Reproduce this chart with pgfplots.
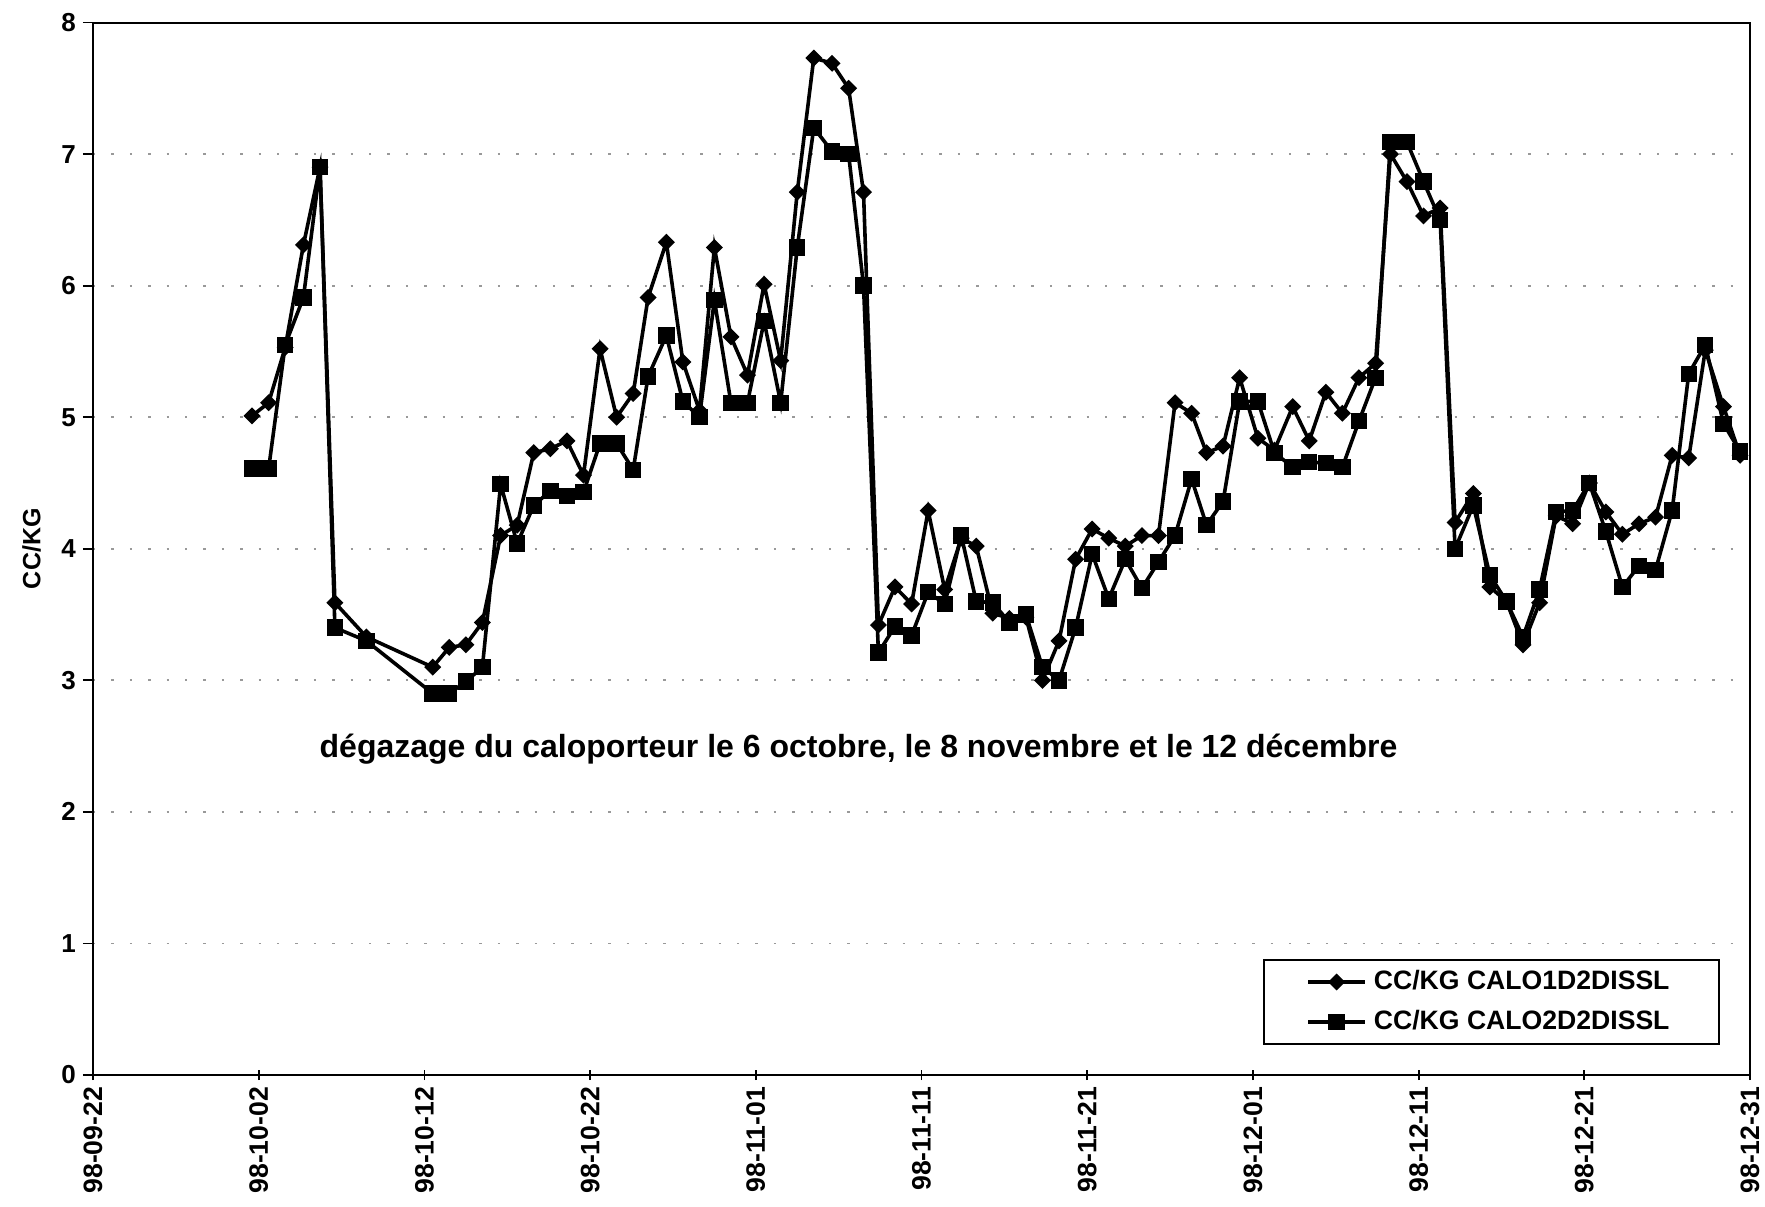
\documentclass[border=0pt]{standalone}
\usepackage{pgfplots}
\pgfplotsset{compat=1.18}
\usepackage{pgfplotstable}
\usepackage{fontspec}
\setmainfont{Liberation Sans}

\pgfplotstableread{
d a b
9.6 5.01 4.61
10.6 5.11 4.61
11.6 5.53 5.55
12.7 6.31 5.91
13.7 6.90 6.90
14.6 3.59 3.40
16.5 3.33 3.30
20.5 3.10 2.90
21.5 3.25 2.90
22.5 3.27 2.99
23.5 3.44 3.10
24.6 4.10 4.49
25.6 4.18 4.04
26.6 4.73 4.33
27.6 4.76 4.44
28.6 4.82 4.40
29.6 4.56 4.43
30.6 5.52 4.80
31.6 5.00 4.80
32.6 5.18 4.60
33.5 5.91 5.31
34.6 6.33 5.62
35.6 5.42 5.12
36.6 5.05 5.00
37.5 6.29 5.89
38.5 5.61 5.11
39.5 5.32 5.11
40.5 6.01 5.73
41.5 5.43 5.11
42.5 6.71 6.29
43.5 7.73 7.20
44.6 7.69 7.02
45.6 7.50 7.00
46.5 6.71 6.00
47.4 3.42 3.21
48.4 3.71 3.41
49.4 3.58 3.34
50.4 4.29 3.67
51.4 3.69 3.58
52.4 4.08 4.10
53.3 4.02 3.60
54.3 3.51 3.59
55.3 3.47 3.44
56.3 3.48 3.50
57.3 3.00 3.10
58.3 3.30 3.00
59.3 3.92 3.40
60.3 4.15 3.96
61.3 4.08 3.62
62.3 4.02 3.92
63.3 4.10 3.70
64.3 4.10 3.90
65.3 5.11 4.10
66.3 5.03 4.53
67.2 4.73 4.18
68.2 4.78 4.36
69.2 5.30 5.12
70.3 4.84 5.12
71.3 4.75 4.73
72.4 5.08 4.62
73.4 4.82 4.66
74.4 5.19 4.65
75.4 5.03 4.62
76.4 5.30 4.97
77.4 5.41 5.30
78.3 7.00 7.09
79.3 6.79 7.09
80.3 6.53 6.79
81.3 6.59 6.50
82.2 4.20 4.00
83.3 4.42 4.33
84.3 3.71 3.80
85.3 3.60 3.60
86.3 3.27 3.33
87.3 3.59 3.69
88.3 4.25 4.28
89.3 4.19 4.29
90.3 4.50 4.50
91.3 4.28 4.13
92.3 4.11 3.71
93.3 4.19 3.87
94.3 4.24 3.84
95.3 4.71 4.29
96.3 4.69 5.33
97.3 5.51 5.55
98.4 5.08 4.95
99.4 4.71 4.74
}\datatable

\begin{document}
\begin{tikzpicture}[x=1pt,y=1pt]
\path[use as bounding box] (0,0) rectangle (882.5,603);
\begin{axis}[
  at={(46.5pt,65.5pt)}, anchor=south west,
  scale only axis, width=828.5pt, height=526.25pt,
  xmin=0, xmax=100, ymin=0, ymax=8,
  xtick={0,10,...,100},
  xticklabels={98-09-22,98-10-02,98-10-12,98-10-22,98-11-01,98-11-11,98-11-21,98-12-01,98-12-11,98-12-21,98-12-31},
  xticklabel style={rotate=90, anchor=east, font=\fontsize{13.3}{13}\selectfont\bfseries},
  ytick={0,...,8},
  yticklabel style={font=\fontsize{13}{13}\selectfont\bfseries},
  /pgf/number format/assume math mode=true,
  xtick pos=bottom, ytick pos=left,
  xtick align=center, ytick align=outside,
  major tick length=5pt,
  tick style={black, line width=0.9pt},
  axis line style={line width=1pt},
  ymajorgrids,
  grid style={black!40, line width=0.9pt, dash pattern=on 1.2pt off 8pt},
  ylabel={CC/KG},
  ylabel style={at={(axis description cs:-0.0371,0.5)}, anchor=center, font=\fontsize{12.5}{13}\selectfont\bfseries},
  legend style={at={(axis cs:98.16,0.228)}, anchor=south east, draw=black, line width=1pt,
    inner xsep=21pt, inner ysep=1pt, font=\fontsize{13.3}{13}\selectfont\bfseries,
    nodes={text height=10pt, text depth=3pt, inner sep=3.5pt}, cells={anchor=west}},
  legend image code/.code={\draw[mark repeat=2,mark phase=2] plot coordinates {(0cm,0cm) (0.5cm,0cm) (1cm,0cm)};},
]
\addplot[black, line width=1.8pt, mark=square*, mark size=2.1pt, mark options={rotate=45, solid}] table[x=d,y=a]{\datatable};
\addlegendentry{CC/KG CALO1D2DISSL}
\addplot[black, line width=1.8pt, mark=square*, mark size=3.2pt, mark options={solid}] table[x=d,y=b]{\datatable};
\addlegendentry{CC/KG CALO2D2DISSL}
\node[font=\fontsize{16}{16}\selectfont\bfseries] at (axis cs:46.2,2.48) {dégazage du caloporteur le 6 octobre, le 8 novembre et le 12 décembre};
\end{axis}
\end{tikzpicture}
\end{document}
